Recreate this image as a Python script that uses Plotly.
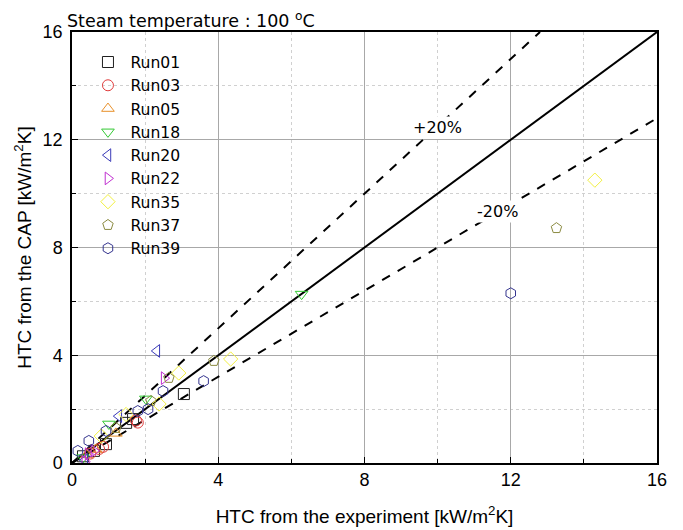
import plotly.graph_objects as go

runs = ["Run01", "Run03", "Run05", "Run18", "Run20", "Run22", "Run35", "Run37", "Run39"]
symbols = ["square-open", "circle-open", "triangle-up-open", "triangle-down-open",
           "triangle-left-open", "triangle-right-open", "diamond-open", "pentagon-open", "hexagon-open"]
colors = ["#202020", "#e03c3c", "#e8902a", "#33c933", "#3a3ab8", "#c030d0", "#f2f040", "#8a8a40", "#35358f"]

run01_x = [0.30, 0.60, 0.93, 1.48, 1.67, 3.06]
run01_y = [0.25, 0.45, 0.70, 1.49, 1.63, 2.56]
run03_x = [0.50, 0.74, 0.85, 1.75, 1.80]
run03_y = [0.35, 0.52, 0.60, 1.58, 1.50]
run05_x = [0.40, 0.65, 1.20]
run05_y = [0.30, 0.50, 1.10]
run18_x = [0.30, 1.01, 2.02, 6.28]
run18_y = [0.20, 1.45, 2.38, 6.27]
run20_x = [0.35, 1.28, 2.32]
run20_y = [0.10, 1.74, 4.16]
run22_x = [0.35, 0.44, 0.60, 2.52]
run22_y = [0.05, 0.33, 0.45, 3.15]
run35_x = [0.80, 1.48, 2.38, 2.92, 4.34, 14.30]
run35_y = [1.00, 1.80, 2.19, 3.34, 3.86, 10.50]
run37_x = [1.20, 2.16, 2.65, 3.88, 13.25]
run37_y = [1.30, 2.30, 3.16, 3.79, 8.72]
run39_x = [0.16, 0.46, 0.93, 1.80, 2.08, 2.49, 3.60, 12.00]
run39_y = [0.45, 0.82, 1.19, 1.93, 2.00, 2.67, 3.04, 6.30]

xs = [run01_x, run03_x, run05_x, run18_x, run20_x, run22_x, run35_x, run37_x, run39_x]
ys = [run01_y, run03_y, run05_y, run18_y, run20_y, run22_y, run35_y, run37_y, run39_y]

line_x = [0, 16]
upper_x = [0, 12.8]
upper_y = [0, 16]
lower_x = [0, 16]
lower_y = [0, 12.8]

fig = go.Figure()

fig.add_trace(go.Scatter(x=line_x, y=line_x, mode="lines", line=dict(color="black", width=2),
                         showlegend=False, hoverinfo="skip"))
fig.add_trace(go.Scatter(x=upper_x, y=upper_y, mode="lines", line=dict(color="black", width=2, dash="dash"),
                         showlegend=False, hoverinfo="skip"))
fig.add_trace(go.Scatter(x=lower_x, y=lower_y, mode="lines", line=dict(color="black", width=2, dash="dash"),
                         showlegend=False, hoverinfo="skip"))

for name, sym, col, x, y in zip(runs, symbols, colors, xs, ys):
    fig.add_trace(go.Scatter(x=x, y=y, mode="markers", name=name, legendgroup=name,
                             marker=dict(symbol=sym, size=11, color=col, line=dict(width=1, color=col))))

fig.add_annotation(x=10.0, y=12.47, text="+20%", showarrow=False, bgcolor="white",
                   font=dict(family="DejaVu Sans", size=16, color="black"))
fig.add_annotation(x=11.64, y=9.35, text="-20%", showarrow=False, bgcolor="white",
                   font=dict(family="DejaVu Sans", size=16, color="black"))
fig.add_annotation(x=0, y=1, xref="paper", yref="paper", xanchor="left", yanchor="bottom",
                   text="Steam temperature : 100 <sup>o</sup>C", showarrow=False, yshift=0, xshift=-6,
                   borderpad=0,
                   font=dict(family="DejaVu Sans", size=17.5, color="black"))

axis_common = dict(range=[0, 16], dtick=4, showgrid=True, gridcolor="#a8a8a8", gridwidth=1,
                   showline=True, mirror=True, linecolor="black", linewidth=1.5,
                   ticks="inside", ticklen=6, tickcolor="black", zeroline=False, automargin=False,
                   tickfont=dict(family="Liberation Sans", size=18, color="black"),
                   minor=dict(dtick=2, showgrid=True, gridcolor="#d0d0d0", griddash="dot",
                              ticks="inside", ticklen=4, tickcolor="black"))

fig.update_xaxes(**axis_common, title=dict(text="HTC from the experiment [kW/m<sup>2</sup>K]",
                 font=dict(family="Liberation Sans", size=19, color="black"), standoff=20))
fig.update_yaxes(**axis_common, ticklabelstandoff=4,
                 title=dict(text="HTC from the CAP [kW/m<sup>2</sup>K]",
                 font=dict(family="Liberation Sans", size=19, color="black"), standoff=6))

fig.update_layout(
    width=683, height=530,
    margin=dict(l=64, r=34, t=24, b=75),
    plot_bgcolor="white", paper_bgcolor="white",
    legend=dict(x=0.023, y=0.969, xanchor="left", yanchor="top", bgcolor="rgba(255,255,255,0)",
                font=dict(family="DejaVu Sans", size=15.6, color="black"), tracegroupgap=0,
                itemwidth=35),
)

fig.write_html("out.html")
